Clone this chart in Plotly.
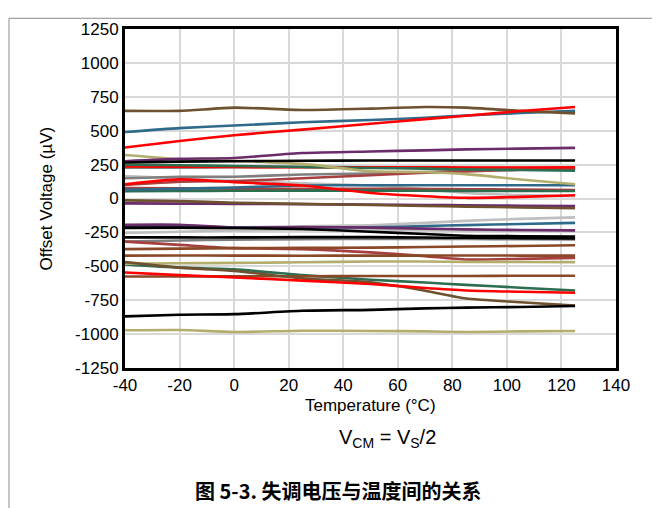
import plotly.graph_objects as go

temps = [-40, -20, 0, 25, 50, 70, 85, 105, 125]

y_ticks = [1250, 1000, 750, 500, 250, 0, -250, -500, -750, -1000, -1250]
x_ticks = [-40, -20, 0, 20, 40, 60, 80, 100, 120, 140]

BROWN = "#6E5230"
BLUE = "#2F6A8A"
RED = "#FF0000"
PURPLE = "#6A2C6A"
BLACK = "#000000"
OLIVE = "#B3AE6E"
GREEN = "#2C6E4F"
GRAY = "#7F7F7F"
LGRAY = "#BFBFBF"
MAROON = "#A63F3F"
SIENNA = "#8B4826"

brown_top = [646, 646, 670, 653, 663, 675, 670, 646, 628]
blue_top = [490, 519, 538, 562, 579, 595, 612, 630, 646]
red_top = [376, 424, 467, 508, 551, 585, 610, 645, 675]
purple_top = [275, 292, 299, 335, 347, 355, 362, 368, 373]
black_top = [265, 272, 275, 278, 280, 280, 280, 280, 280]
olive_top = [321, 290, 278, 255, 201, 195, 180, 140, 105]
green_top = [249, 245, 240, 232, 225, 220, 215, 210, 205]
red_mid = [236, 234, 232, 231, 231, 230, 229, 229, 230]
gray_mid2 = [228, 228, 230, 232, 230, 228, 226, 224, 222]
gray_mid = [149, 160, 160, 177, 184, 195, 205, 212, 218]
lgray_mid = [165, 149, 129, 113, 96, 70, 41, 25, 17]
maroon_mid = [100, 124, 129, 149, 172, 190, 200, 212, 220]
red_mid2 = [105, 141, 120, 96, 41, 17, 5, 12, 24]
blue_mid = [65, 72, 81, 96, 98, 98, 98, 98, 98]
green_mid = [53, 55, 57, 58, 58, 57, 56, 55, 55]
maroon_mid2 = [77, 75, 73, 72, 72, 70, 68, 66, 63]
brown_zero = [-14, -19, -31, -40, -48, -55, -60, -66, -72]
purple_zero = [-36, -38, -40, -42, -45, -48, -50, -53, -55]
purple_neg = [-194, -194, -215, -211, -215, -222, -228, -232, -235]
lgray_neg = [-223, -218, -212, -205, -197, -180, -165, -150, -139]
blue_neg = [-205, -208, -212, -214, -212, -203, -196, -188, -180]
lgray_neg2 = [-254, -245, -235, -230, -230, -232, -235, -238, -240]
black_negA = [-287, -287, -287, -285, -285, -288, -290, -292, -294]
black_negB = [-215, -215, -218, -225, -245, -262, -275, -278, -280]
gray_neg = [-318, -310, -303, -300, -298, -298, -299, -300, -302]
maroon_neg = [-318, -342, -366, -373, -397, -425, -450, -445, -438]
sienna_negA = [-373, -370, -366, -364, -362, -358, -354, -350, -345]
sienna_negB = [-421, -420, -421, -422, -421, -421, -420, -421, -421]
olive_neg = [-481, -478, -475, -470, -465, -465, -467, -468, -469]
brown_neg = [-469, -510, -534, -589, -618, -680, -738, -765, -790]
green_neg = [-486, -510, -522, -565, -599, -620, -637, -658, -678]
red_neg = [-546, -565, -582, -606, -630, -660, -678, -688, -695]
sienna_neg2 = [-575, -575, -574, -573, -572, -572, -571, -570, -570]
black_bottom = [-869, -857, -853, -828, -821, -810, -805, -800, -793]
olive_bottom = [-972, -970, -984, -975, -977, -980, -984, -980, -977]

series = [
    (lgray_mid, LGRAY), (lgray_neg, LGRAY), (lgray_neg2, LGRAY),
    (gray_mid, GRAY), (gray_mid2, GRAY), (gray_neg, GRAY),
    (maroon_mid, MAROON), (maroon_mid2, MAROON), (maroon_neg, MAROON),
    (red_mid, RED),
    (green_top, GREEN), (green_mid, GREEN), (green_neg, GREEN),
    (blue_mid, BLUE), (blue_neg, BLUE), (blue_top, BLUE),
    (olive_top, OLIVE), (olive_neg, OLIVE), (olive_bottom, OLIVE),
    (sienna_negA, SIENNA), (sienna_negB, SIENNA), (sienna_neg2, SIENNA),
    (purple_top, PURPLE), (purple_zero, PURPLE), (purple_neg, PURPLE),
    (brown_top, BROWN), (brown_zero, BROWN), (brown_neg, BROWN),
    (black_top, BLACK), (black_negA, BLACK), (black_negB, BLACK), (black_bottom, BLACK),
    (red_mid2, RED), (red_neg, RED), (red_top, RED),
]

fig = go.Figure()
for vals, col in series:
    fig.add_trace(go.Scatter(x=temps, y=vals, mode="lines",
                             line=dict(color=col, width=2.6, shape="spline", smoothing=0.6),
                             showlegend=False, hoverinfo="skip"))

# The page body adds an 8px offset; figure sized to fit inside the window.
W, H = 652, 500
L, R, T, B = 117, 44, 12, 140
PW = W - L - R
PH = H - T - B

def px_x(sx):
    return (sx - 8 - L) / PW

def px_y(sy):
    return (H - B - (sy - 8)) / PH

FONT = "Liberation Sans, Arial, sans-serif"
fig.update_layout(
    width=W, height=H,
    margin=dict(l=L, r=R, t=T, b=B),
    paper_bgcolor="white", plot_bgcolor="white",
    font=dict(family=FONT, size=17, color="black"),
    showlegend=False,
)
fig.update_xaxes(range=[-40, 140], tickvals=x_ticks, ticktext=[str(v) for v in x_ticks],
                 showgrid=True, gridcolor="#D9D9D9", gridwidth=1.5,
                 showline=True, linecolor="black", linewidth=3, mirror=True,
                 ticks="", zeroline=False, tickfont=dict(size=17))
fig.update_yaxes(range=[-1250, 1250], tickvals=y_ticks, ticktext=[str(v) for v in y_ticks],
                 showgrid=True, gridcolor="#D9D9D9", gridwidth=1.5,
                 showline=True, linecolor="black", linewidth=3, mirror=True,
                 ticks="", zeroline=False, tickfont=dict(size=17))

fig.add_annotation(text="Offset Voltage (µV)", xref="paper", yref="paper",
                   x=px_x(46), y=px_y(194), textangle=-90, showarrow=False,
                   font=dict(size=17), xanchor="center", yanchor="middle")
fig.add_annotation(text="Temperature (°C)", xref="paper", yref="paper",
                   x=px_x(370), y=px_y(406), showarrow=False,
                   font=dict(size=17), xanchor="center", yanchor="middle")
fig.add_annotation(text="V<sub>CM</sub> = V<sub>S</sub>/2", xref="paper", yref="paper",
                   x=px_x(387), y=px_y(440), showarrow=False,
                   font=dict(size=20), xanchor="center", yanchor="middle")
fig.add_annotation(text="<b>图 5-3. 失调电压与温度间的关系</b>", xref="paper", yref="paper",
                   x=px_x(338), y=px_y(494), showarrow=False,
                   font=dict(size=20, family="Noto Sans CJK SC"), xanchor="center", yanchor="middle")

# outer frame of the figure image
fig.add_shape(type="rect", xref="paper", yref="paper",
              x0=px_x(9), x1=px_x(656),
              y0=px_y(540), y1=px_y(9),
              line=dict(color="#8C8C8C", width=1), layer="below")

fig.write_html("out.html")
